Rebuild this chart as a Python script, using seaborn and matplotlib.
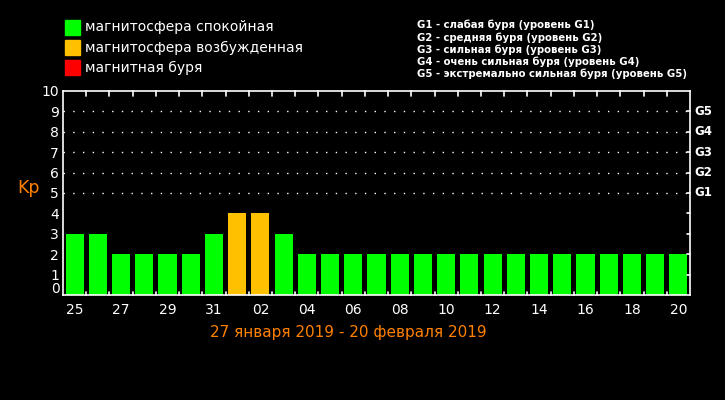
import matplotlib
matplotlib.use("Agg")
import matplotlib.pyplot as plt
from matplotlib.patches import Rectangle
import seaborn as sns
import pandas as pd

# Kp index by day, 25 Jan - 20 Feb 2019
days = ["25", "26", "27", "28", "29", "30", "31",
        "01", "02", "03", "04", "05", "06", "07", "08", "09", "10",
        "11", "12", "13", "14", "15", "16", "17", "18", "19", "20"]
kp = [3, 3, 2, 2, 2, 2, 3,
      4, 4, 3, 2, 2, 2, 2, 2, 2, 2,
      2, 2, 2, 2, 2, 2, 2, 2, 2, 2]

legend_labels = ["магнитосфера спокойная", "магнитосфера возбужденная", "магнитная буря"]
legend_colors = ["#00ff00", "#ffc000", "#ff0000"]
g_labels = ["G1 - слабая буря (уровень G1)",
            "G2 - средняя буря (уровень G2)",
            "G3 - сильная буря (уровень G3)",
            "G4 - очень сильная буря (уровень G4)",
            "G5 - экстремально сильная буря (уровень G5)"]
g_levels = [5, 6, 7, 8, 9]
title_text = "27 января 2019 - 20 февраля 2019"


def state_of(v):
    if v < 4:
        return legend_labels[0]
    if v < 5:
        return legend_labels[1]
    return legend_labels[2]


df = pd.DataFrame({"day": days, "kp": kp})
df["state"] = df["kp"].apply(state_of)

sns.set_theme(style="dark")
plt.rcParams["font.family"] = ["DejaVu Sans"]

fig = plt.figure(figsize=(7.25, 4), dpi=100, facecolor="black")
W, H = 725, 400
ax = fig.add_axes([63 / W, 1 - 295 / H, (690 - 63) / W, (295 - 91) / H])
ax.set_facecolor("black")

sns.barplot(data=df, x="day", y="kp", hue="state", order=days,
            hue_order=legend_labels, palette=dict(zip(legend_labels, legend_colors)),
            dodge=False, width=0.78, saturation=1, legend=False,
            edgecolor="none", linewidth=0, ax=ax)

n = len(days)
ax.set_xlim(-0.5, n - 0.5)
ax.set_ylim(0, 10)
ax.set_xlabel("")
ax.set_ylabel("")
ax.grid(False)
for s in ax.spines.values():
    s.set_color("white")
    s.set_linewidth(1.2)

# dotted levels for G1..G5
for lvl in g_levels:
    ax.axhline(lvl, color="white", linestyle=(0, (1, 6)), linewidth=1)

# x labels every other day
ax.set_xticks(range(0, n, 2))
ax.set_xticklabels(days[::2], color="white", fontsize=10)
ax.tick_params(axis="x", length=0, pad=6)
ax.set_yticks(range(1, 11))
ax.set_yticklabels([str(i) for i in range(1, 11)], color="white", fontsize=10)
ax.tick_params(axis="y", length=0, pad=3)
# zero sits a little above the baseline, as in the original
ax.text(-0.5 - 0.15, 0.27, "0", color="white", fontsize=10, ha="right", va="center")

# tick marks at day boundaries, top and bottom, inward
for b in range(1, n):
    ax.plot([b - 0.5, b - 0.5], [10, 9.75], color="white", lw=1.2, clip_on=False)
    ax.plot([b - 0.5, b - 0.5], [0, 0.15], color="white", lw=1.2, clip_on=False)
# right side ticks
for i in range(1, 10):
    ax.plot([n - 0.5, n - 0.62], [i, i], color="white", lw=1.2, clip_on=False)
for lvl, g in zip(g_levels, ["G1", "G2", "G3", "G4", "G5"]):
    ax.text(n - 0.5 + 0.2, lvl, g, color="white", fontsize=8.5,
            fontweight="bold", va="center", ha="left")

fig.text(17 / W, 1 - 188 / H, "Kp", color="#ff8000", fontsize=12.5, va="center", ha="left")
fig.text(348 / W, 1 - 333 / H, title_text, color="#ff8000", fontsize=11,
         va="center", ha="center")

# legend of states
for i, (lab, col) in enumerate(zip(legend_labels, legend_colors)):
    y = 20 + i * 20
    fig.add_artist(Rectangle((65 / W, 1 - (y + 15) / H), 15 / W, 15 / H,
                             transform=fig.transFigure, color=col))
    fig.text(85 / W, 1 - (y + 7.5) / H, lab, color="white", fontsize=10, va="center")

for i, lab in enumerate(g_labels):
    fig.text(417 / W, 1 - (25 + i * 12.3) / H, lab, color="white", fontsize=7.3,
             fontweight="bold", va="center")

fig.savefig("out.png", dpi=100, facecolor="black")
